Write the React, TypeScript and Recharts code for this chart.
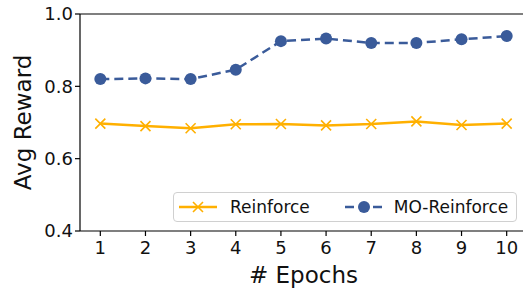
import React from 'react'
import { LineChart, Line, XAxis, YAxis, Legend, ReferenceLine } from 'recharts'

const epochs = [1, 2, 3, 4, 5, 6, 7, 8, 9, 10]
const reinforce = [0.697, 0.69, 0.684, 0.695, 0.696, 0.692, 0.696, 0.703, 0.693, 0.697]
const moReinforce = [0.82, 0.822, 0.82, 0.846, 0.925, 0.932, 0.92, 0.92, 0.93, 0.939]
const yTicks = [0.4, 0.6, 0.8, 1.0]

const ORANGE = '#ffb000'
const BLUE = '#3a5b9a'
const FONT = '"DejaVu Sans", sans-serif'

const data = epochs.map((e, i) => ({ epoch: e, reinforce: reinforce[i], mo: moReinforce[i] }))

// matplotlib-style 'x' marker
const XMark = (props: any) => {
  const { cx, cy, key } = props
  if (cx == null || cy == null) return <g key={key} />
  const s = 5
  return (
    <path
      key={key}
      d={`M${cx - s},${cy - s}L${cx + s},${cy + s}M${cx - s},${cy + s}L${cx + s},${cy - s}`}
      stroke={ORANGE}
      strokeWidth={1.6}
      fill="none"
    />
  )
}

const LegendBox = () => (
  <div
    style={{
      width: 344,
      height: 30,
      boxSizing: 'border-box',
      border: '1px solid #d0d0d0',
      borderRadius: 4,
      background: 'rgba(255,255,255,0.8)',
      display: 'flex',
      alignItems: 'center',
      fontFamily: FONT,
      fontSize: 17,
      color: '#111',
    }}
  >
    <svg width={50} height={20} style={{ marginLeft: 4 }}>
      <line x1={1} y1={10} x2={39} y2={10} stroke={ORANGE} strokeWidth={2.5} />
      <path d="M15,5L25,15M15,15L25,5" stroke={ORANGE} strokeWidth={1.6} />
    </svg>
    <span style={{ marginLeft: 2 }}>Reinforce</span>
    <svg width={50} height={20} style={{ marginLeft: 34 }}>
      <line x1={1} y1={10} x2={39} y2={10} stroke={BLUE} strokeWidth={2.5} strokeDasharray="9 5" />
      <circle cx={20} cy={10} r={6} fill={BLUE} />
    </svg>
    <span style={{ marginLeft: 0 }}>MO-Reinforce</span>
  </div>
)

export default function App() {
  return (
    <div style={{ position: 'absolute', left: 0, top: 0, width: 523, height: 289, overflow: 'hidden', background: '#fff' }}>
      <LineChart width={527} height={289} data={data} margin={{ top: 14, right: 0, bottom: 0, left: 0 }}>
        <XAxis
          dataKey="epoch"
          type="number"
          domain={[0.55, 10.45]}
          ticks={epochs}
          allowDataOverflow
          height={58}
          stroke="#000"
          strokeWidth={1.2}
          tickSize={5}
          tick={{ fontSize: 18, fontFamily: FONT, fill: '#111', dy: 3 }}
          label={{ value: '# Epochs', position: 'insideBottom', offset: 6, fontSize: 23, fontFamily: FONT, fill: '#111' }}
        />
        <YAxis
          type="number"
          domain={[0.4, 1.0]}
          ticks={yTicks}
          width={80}
          stroke="#000"
          strokeWidth={1.2}
          tickSize={5}
          tickFormatter={(v: number) => v.toFixed(1)}
          tick={{ fontSize: 18, fontFamily: FONT, fill: '#111' }}
          label={{ value: 'Avg Reward', angle: -90, position: 'insideLeft', offset: 23, fontSize: 23, fontFamily: FONT, fill: '#111', style: { textAnchor: 'middle' } }}
        />
        <ReferenceLine y={1.0} stroke="#000" strokeWidth={1.2} />
        <Line
          dataKey="reinforce"
          stroke={ORANGE}
          strokeWidth={2.5}
          dot={XMark}
          activeDot={false}
          isAnimationActive={false}
        />
        <Line
          dataKey="mo"
          stroke={BLUE}
          strokeWidth={2.5}
          strokeDasharray="9 5"
          dot={{ r: 6, fill: BLUE, stroke: BLUE, strokeWidth: 0, strokeDasharray: '' }}
          activeDot={false}
          isAnimationActive={false}
        />
        <Legend
          layout="horizontal"
          align="center"
          verticalAlign="middle"
          content={() => <LegendBox />}
          wrapperStyle={{ left: 173, top: 192, width: 344, height: 30 }}
        />
      </LineChart>
    </div>
  )
}
